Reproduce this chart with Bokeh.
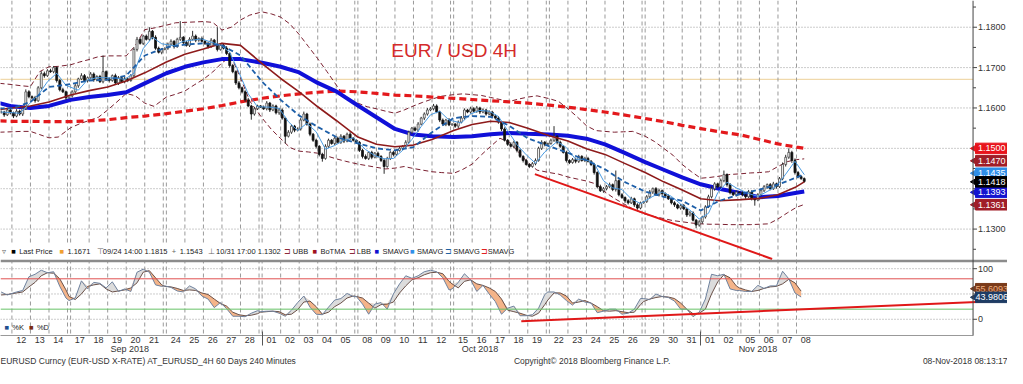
import numpy as np
import pandas as pd
from bokeh.plotting import figure
from bokeh.models import (Range1d, LinearAxis, FixedTicker, Span, Label, BoxAnnotation)
from bokeh.core.properties import value
from bokeh.embed import file_html
from bokeh.resources import INLINE

# ------------------------------------------------------------------ data
TRADING_DAYS = pd.bdate_range("2018-09-12", "2018-11-08")
PRE_BARS = 4          # last bars of Sep 11 at the left edge
LAST_DAY_BARS = 3     # Nov 8 is still in progress
MONTHS = ["Sep 2018", "Oct 2018", "Nov 2018"]
FOOTER = ["EURUSD Curncy (EUR-USD X-RATE) AT_EURUSD_4H 60 Days 240 Minutes",
          "Copyright© 2018 Bloomberg Finance L.P.", "08-Nov-2018 08:13:17"]

# 4H closes (pre, then 6 per weekday, 1 for each Sunday session)
CLOSE = [
    1.1590, 1.1583, 1.1595, 1.1588,
    1.1580, 1.1592, 1.1585, 1.1598, 1.1640, 1.1628,   # 12 Sep
    1.1625, 1.1618, 1.1650, 1.1685, 1.1680, 1.1692,   # 13
    1.1690, 1.1700, 1.1668, 1.1645, 1.1640, 1.1625,   # 14
    1.1630,
    1.1640, 1.1655, 1.1672, 1.1680, 1.1668, 1.1675,   # 17
    1.1684, 1.1670, 1.1678, 1.1665, 1.1690, 1.1672,   # 18
    1.1668, 1.1680, 1.1662, 1.1675, 1.1665, 1.1672,   # 19
    1.1668, 1.1680, 1.1745, 1.1770, 1.1760, 1.1778,   # 20
    1.1770, 1.1790, 1.1775, 1.1748, 1.1738, 1.1745,   # 21
    1.1748,
    1.1758, 1.1765, 1.1752, 1.1770, 1.1775, 1.1762,   # 24
    1.1755, 1.1770, 1.1778, 1.1768, 1.1772, 1.1765,   # 25
    1.1760, 1.1752, 1.1768, 1.1758, 1.1745, 1.1755,   # 26
    1.1748, 1.1735, 1.1705, 1.1690, 1.1662, 1.1650,   # 27
    1.1640, 1.1620, 1.1605, 1.1585, 1.1598, 1.1605,   # 28
    1.1602,
    1.1598, 1.1612, 1.1595, 1.1605, 1.1588, 1.1595,   # 01 Oct
    1.1575, 1.1530, 1.1540, 1.1555, 1.1545, 1.1548,   # 02
    1.1570, 1.1585, 1.1560, 1.1535, 1.1520, 1.1505,   # 03
    1.1485, 1.1475, 1.1505, 1.1520, 1.1512, 1.1525,   # 04
    1.1515, 1.1530, 1.1518, 1.1535, 1.1525, 1.1520,   # 05
    1.1515,
    1.1495, 1.1480, 1.1475, 1.1490, 1.1478, 1.1488,   # 08
    1.1480, 1.1470, 1.1455, 1.1475, 1.1490, 1.1485,   # 09
    1.1495, 1.1500, 1.1505, 1.1515, 1.1540, 1.1550,   # 10
    1.1545, 1.1560, 1.1575, 1.1585, 1.1595, 1.1598,   # 11
    1.1605, 1.1590, 1.1570, 1.1560, 1.1570, 1.1558,   # 12
    1.1560,
    1.1555, 1.1565, 1.1575, 1.1595, 1.1590, 1.1598,   # 15
    1.1592, 1.1600, 1.1590, 1.1595, 1.1585, 1.1590,   # 16
    1.1580, 1.1575, 1.1565, 1.1548, 1.1520, 1.1510,   # 17
    1.1505, 1.1515, 1.1495, 1.1480, 1.1470, 1.1460,   # 18
    1.1455, 1.1462, 1.1470, 1.1500, 1.1515, 1.1510,   # 19
    1.1512,
    1.1520, 1.1530, 1.1515, 1.1505, 1.1490, 1.1470,   # 22
    1.1465, 1.1472, 1.1468, 1.1480, 1.1470, 1.1475,   # 23
    1.1468, 1.1460, 1.1440, 1.1405, 1.1395, 1.1400,   # 24
    1.1405, 1.1410, 1.1398, 1.1420, 1.1385, 1.1378,   # 25
    1.1370, 1.1365, 1.1375, 1.1360, 1.1352, 1.1365,   # 26
    1.1368,
    1.1380, 1.1392, 1.1400, 1.1385, 1.1395, 1.1388,   # 29
    1.1382, 1.1375, 1.1365, 1.1360, 1.1352, 1.1358,   # 30
    1.1350, 1.1335, 1.1340, 1.1322, 1.1310, 1.1318,   # 31
    1.1330, 1.1355, 1.1380, 1.1400, 1.1412, 1.1405,   # 01 Nov
    1.1420, 1.1435, 1.1410, 1.1390, 1.1385, 1.1392,   # 02
    1.1390,
    1.1385, 1.1380, 1.1392, 1.1375, 1.1372, 1.1385,   # 05
    1.1395, 1.1405, 1.1410, 1.1400, 1.1412, 1.1405,   # 06
    1.1425, 1.1460, 1.1478, 1.1490, 1.1470, 1.1440,   # 07
    1.1430, 1.1425, 1.1418,                           # 08
]
# wick extension above / below the candle body, in pips
WICK_HI = [
    4, 3, 5, 3,
    3, 5, 4, 3, 6, 4,  3, 5, 4, 6, 5, 4,  5, 4, 3, 4, 5, 3,  2,
    4, 5, 3, 6, 4, 3,  5, 4, 3, 4, 40, 3,  4, 3, 5, 4, 3, 5,  3, 4, 5, 6, 4, 3,  4, 10, 3, 5, 4, 3,  2,
    4, 5, 3, 4, 40, 3,  4, 5, 13, 4, 3, 5,  3, 4, 5, 3, 42, 4,  4, 5, 3, 4, 3, 5,  3, 4, 5, 3, 4, 3,  2,
    4, 5, 3, 4, 3, 5,  4, 3, 5, 4, 3, 4,  5, 6, 3, 4, 3, 4,  3, 4, 5, 4, 3, 5,  4, 5, 3, 4, 5, 3,  2,
    3, 4, 5, 3, 4, 3,  4, 3, 5, 4, 3, 4,  3, 4, 3, 5, 4, 3,  4, 5, 3, 4, 5, 4,  5, 4, 3, 4, 3, 5,  2,
    3, 4, 5, 4, 3, 5,  4, 5, 3, 4, 3, 4,  3, 4, 5, 3, 4, 3,  5, 4, 3, 4, 3, 4,  3, 4, 5, 4, 5, 3,  2,
    4, 25, 3, 4, 3, 4,  3, 4, 5, 4, 3, 4,  4, 3, 4, 3, 5, 4,  4, 5, 3, 25, 3, 4,  3, 4, 5, 3, 4, 3,  2,
    4, 5, 3, 4, 5, 3,  3, 4, 3, 4, 3, 4,  4, 3, 5, 4, 3, 4,  3, 4, 5, 6, 4, 3,  5, 10, 3, 4, 3, 4,  2,
    4, 3, 5, 4, 3, 4,  5, 4, 3, 4, 5, 3,  4, 5, 6, 10, 4, 5,  4, 3, 3,
]
WICK_LO = [
    4, 5, 3, 4,
    5, 3, 4, 5, 3, 4,  4, 5, 3, 4, 5, 3,  3, 4, 5, 4, 3, 5,  2,
    4, 3, 5, 3, 4, 5,  3, 5, 4, 3, 4, 5,  5, 3, 4, 5, 3, 4,  4, 3, 4, 5, 3, 4,  3, 4, 5, 4, 3, 5,  2,
    4, 3, 5, 3, 4, 5,  3, 4, 3, 5, 4, 3,  4, 5, 3, 4, 5, 3,  3, 4, 5, 4, 5, 4,  4, 5, 3, 14, 4, 3,  2,
    3, 4, 5, 3, 4, 5,  4, 18, 3, 4, 5, 3,  4, 3, 4, 5, 4, 5,  5, 8, 3, 4, 3, 4,  3, 4, 5, 3, 4, 3,  2,
    4, 5, 3, 4, 5, 3,  3, 4, 18, 3, 4, 5,  4, 3, 5, 4, 3, 4,  3, 4, 3, 5, 4, 3,  4, 3, 5, 4, 5, 3,  2,
    4, 5, 3, 4, 3, 4,  3, 4, 5, 3, 4, 3,  4, 3, 4, 5, 3, 4,  3, 4, 5, 4, 5, 3,  4, 3, 4, 3, 4, 5,  2,
    3, 4, 5, 4, 3, 5,  4, 3, 5, 4, 3, 4,  3, 4, 5, 4, 3, 5,  4, 3, 4, 5, 4, 3,  5, 4, 3, 5, 4, 3,  2,
    3, 4, 5, 3, 4, 5,  4, 3, 4, 5, 3, 4,  3, 5, 4, 3, 8, 4,  5, 4, 3, 4, 5, 4,  3, 4, 5, 4, 3, 4,  2,
    4, 5, 3, 4, 14, 3,  4, 3, 5, 4, 3, 5,  3, 4, 5, 4, 6, 5,  4, 3, 3,
]

# one value at each day start (first = left edge, last = latest bar)
SMA_BLUE = [1.1612,
    1.1604, 1.1600, 1.1605, 1.1620, 1.1627, 1.1632, 1.1639, 1.1661, 1.1686, 1.1702,
    1.1713, 1.1721, 1.1721, 1.1712, 1.1702, 1.1688, 1.1662, 1.1641, 1.1606, 1.1577,
    1.1548, 1.1534, 1.1530, 1.1528, 1.1530, 1.1535, 1.1538, 1.1536, 1.1534, 1.1531,
    1.1524, 1.1510, 1.1490, 1.1466, 1.1447, 1.1428, 1.1411, 1.1400, 1.1389, 1.1379,
    1.1382, 1.1390, 1.1393]
SMA_RED = [1.1568,
    1.1567, 1.1567, 1.1566, 1.1566, 1.1568, 1.1571, 1.1576, 1.1580, 1.1586, 1.1592,
    1.1598, 1.1606, 1.1615, 1.1624, 1.1630, 1.1635, 1.1639, 1.1642, 1.1640, 1.1636,
    1.1632, 1.1630, 1.1627, 1.1624, 1.1621, 1.1618, 1.1615, 1.1612, 1.1607, 1.1602,
    1.1596, 1.1590, 1.1583, 1.1574, 1.1566, 1.1557, 1.1549, 1.1541, 1.1533, 1.1522,
    1.1511, 1.1503, 1.1500]
BOTMA = [1.1596,
    1.1600, 1.1605, 1.1615, 1.1632, 1.1643, 1.1652, 1.1667, 1.1687, 1.1714, 1.1733,
    1.1746, 1.1760, 1.1755, 1.1710, 1.1673, 1.1640, 1.1603, 1.1569, 1.1528, 1.1510,
    1.1504, 1.1508, 1.1522, 1.1544, 1.1559, 1.1567, 1.1564, 1.1550, 1.1531, 1.1518,
    1.1499, 1.1485, 1.1464, 1.1440, 1.1417, 1.1397, 1.1375, 1.1370, 1.1373, 1.1376,
    1.1385, 1.1405, 1.1417]
SMA_DASH = [1.1599,
    1.1599, 1.1615, 1.1652, 1.1659, 1.1668, 1.1670, 1.1680, 1.1730, 1.1750, 1.1757,
    1.1760, 1.1755, 1.1730, 1.1665, 1.1620, 1.1581, 1.1553, 1.1528, 1.1512, 1.1500,
    1.1495, 1.1503, 1.1540, 1.1575, 1.1580, 1.1578, 1.1556, 1.1525, 1.1505, 1.1489,
    1.1470, 1.1448, 1.1418, 1.1393, 1.1380, 1.1370, 1.1346, 1.1370, 1.1387, 1.1398,
    1.1410, 1.1428, 1.1436]
# two values per day (session start and mid-session)
UBB = [1.1661,
    1.1658, 1.1655, 1.1653, 1.1690, 1.1702, 1.1703, 1.1707, 1.1714, 1.1720, 1.1727,
    1.1729, 1.1729, 1.1729, 1.1755, 1.1794, 1.1798, 1.1805, 1.1811, 1.1812, 1.1813,
    1.1814, 1.1812, 1.1793, 1.1800, 1.1818, 1.1830, 1.1838, 1.1833, 1.1825, 1.1808,
    1.1782, 1.1752, 1.1722, 1.1690, 1.1657, 1.1625, 1.1612, 1.1603, 1.1598, 1.1592,
    1.1587, 1.1595, 1.1605, 1.1614, 1.1622, 1.1629, 1.1633, 1.1635, 1.1633, 1.1631,
    1.1626, 1.1621, 1.1616, 1.1622, 1.1627, 1.1630, 1.1623, 1.1616, 1.1598, 1.1578,
    1.1556, 1.1544, 1.1542, 1.1540, 1.1541, 1.1542, 1.1530, 1.1517, 1.1500, 1.1483,
    1.1460, 1.1442, 1.1426, 1.1428, 1.1431, 1.1435, 1.1437, 1.1439, 1.1440, 1.1442,
    1.1455, 1.1467, 1.1472, 1.1474]
LBB = [1.1540,
    1.1541, 1.1542, 1.1542, 1.1534, 1.1526, 1.1528, 1.1551, 1.1561, 1.1569, 1.1577,
    1.1595, 1.1615, 1.1636, 1.1630, 1.1612, 1.1604, 1.1627, 1.1634, 1.1642, 1.1657,
    1.1671, 1.1689, 1.1712, 1.1727, 1.1675, 1.1617, 1.1575, 1.1547, 1.1524, 1.1502,
    1.1493, 1.1491, 1.1488, 1.1481, 1.1474, 1.1468, 1.1461, 1.1457, 1.1453, 1.1449,
    1.1451, 1.1455, 1.1450, 1.1446, 1.1442, 1.1440, 1.1438, 1.1448, 1.1461, 1.1484,
    1.1505, 1.1525, 1.1515, 1.1491, 1.1465, 1.1446, 1.1440, 1.1436, 1.1429, 1.1424,
    1.1419, 1.1412, 1.1392, 1.1376, 1.1363, 1.1350, 1.1337, 1.1331, 1.1326, 1.1321,
    1.1318, 1.1315, 1.1313, 1.1312, 1.1312, 1.1311, 1.1311, 1.1311, 1.1312, 1.1313,
    1.1325, 1.1340, 1.1354, 1.1361]
# fast average, two values per day
SMA_LIGHT = [1.1590,
    1.1587, 1.1609, 1.1632, 1.1665, 1.1686, 1.1656, 1.1644, 1.1670, 1.1675, 1.1675,
    1.1674, 1.1671, 1.1686, 1.1747, 1.1775, 1.1759, 1.1754, 1.1765, 1.1768, 1.1771,
    1.1763, 1.1756, 1.1738, 1.1688, 1.1635, 1.1603, 1.1602, 1.1599, 1.1566, 1.1544,
    1.1562, 1.1541, 1.1498, 1.1507, 1.1520, 1.1526, 1.1497, 1.1482, 1.1474, 1.1475,
    1.1495, 1.1522, 1.1554, 1.1583, 1.1592, 1.1570, 1.1563, 1.1585, 1.1594, 1.1592,
    1.1579, 1.1544, 1.1509, 1.1484, 1.1463, 1.1491, 1.1517, 1.1502, 1.1473, 1.1473,
    1.1463, 1.1420, 1.1402, 1.1398, 1.1375, 1.1363, 1.1381, 1.1392, 1.1381, 1.1362,
    1.1347, 1.1325, 1.1339, 1.1390, 1.1416, 1.1402, 1.1388, 1.1381, 1.1393, 1.1406,
    1.1436, 1.1468, 1.1435]
# stochastics: 2 at left edge, 3 per weekday, 1 per Sunday, 1 for Nov 8
STOCH_K = [54, 48,
    54, 57, 84,  89, 97, 92,  94, 65, 42,  37,
    42, 76, 60,  73, 71, 62,  74, 55, 60,  55, 93, 99,  93, 68, 65,  66,
    63, 56, 54,  66, 60, 46,  40, 23, 33,  21, 6, 6,  5, 12, 17,  15,
    16, 16, 12,  6, 18, 33,  46, 24, 10,  9, 24, 38,  41, 51, 45,  45,
    30, 10, 30,  33, 20, 50,  70, 86, 81,  86, 94, 97,  94, 82, 58,  60,
    73, 90, 78,  55, 67, 50,  35, 10, 22,  26, 7, 7,  9, 22, 49,  54,
    54, 48, 37,  28, 40, 34,  32, 13, 16,  20, 20, 10,  12, 20, 41,  41,
    39, 50, 45,  43, 36, 20,  20, 5, 14,  40, 89, 86,  89, 60, 57,  57,
    55, 55, 67,  61, 66, 66,  95, 80, 52,  43.98]
STOCH_D = [48, 49,
    52, 54, 64,  73, 86, 92,  91, 80, 58,  45,
    39, 50, 65,  68, 70, 60,  54, 56, 58,  62, 72, 93,  96, 82, 68,  65,
    64, 61, 57,  58, 57, 52,  49, 40, 31,  26, 14, 9,  7, 8, 11,  14,
    15, 16, 15,  9, 10, 19,  34, 36, 25,  10, 14, 25,  32, 42, 46,  45,
    42, 32, 22,  29, 30, 34,  52, 66, 78,  82, 88, 92,  93, 90, 75,  70,
    62, 75, 78,  70, 67, 62,  55, 40, 18,  15, 12, 8,  6, 12, 29,  38,
    52, 52, 46,  32, 34, 37,  32, 25, 17,  16, 17, 15,  13, 14, 29,  35,
    40, 43, 45,  44, 41, 32,  20, 11, 12,  20, 50, 74,  88, 82, 66,  62,
    58, 55, 57,  61, 64, 65,  70, 79, 72,  55.61]
# hand-drawn trend lines (bar position, value)
TREND_PRICE_BAR = [169.3, 246.1]
TREND_PRICE_VAL = [1.1436, 1.1226]
TREND_STOCH_BAR = [164.9, 322.0]
TREND_STOCH_VAL = [-4.0, 36.8]
AVG_PRICE = 1.1671
PRICE_TICKS = [1.13, 1.14, 1.15, 1.16, 1.17, 1.18]
PRICE_MINOR = [1.125, 1.135, 1.145, 1.155, 1.165, 1.175, 1.185]
STOCH_TICKS = [0, 100]
# value tags at the right edge: text, tag colour, text colour
TAGS_PRICE = [("1.1500", "#e8141c", "white"), ("1.1470", "#a01e28", "white"),
              ("1.1435", "#2f8fe8", "white"), ("1.1418", "#000000", "white"),
              ("1.1393", "#1414d0", "white"), ("1.1361", "#a01e28", "white")]
TAGS_STOCH = [("55.6093", "#7a3a1a", "#f0b080"), ("43.9806", "#1e3c64", "white")]

# ------------------------------------------------------------------ calendar -> bar index
bars_left = list(range(-PRE_BARS, 0))
day_start, sun_start, monday = [], [], []
b = 0
for i, d in enumerate(TRADING_DAYS):
    if d.weekday() == 0:
        sun_start.append(b); bars_left.append(b); b += 1
    monday.append(d.weekday() == 0)
    day_start.append(b)
    n = LAST_DAY_BARS if i == len(TRADING_DAYS) - 1 else 6
    bars_left.extend(range(b, b + n)); b += n
xb = np.array(bars_left) + 0.5
assert len(xb) == len(CLOSE) == len(WICK_HI) == len(WICK_LO)
last_x = xb[-1]
x_daily = [-PRE_BARS] + day_start + [last_x]
x_two = [-PRE_BARS]
for s in day_start[:-1]:
    x_two += [s, s + 3]
x_two += [day_start[-1], last_x]
x_light = [-3.5]
for s in day_start[:-1]:
    x_light += [s + 2.5, s + 5.5]
x_light += [day_start[-1] + 2.5]
x_st = [-3.5, -1.5]
for i, s in enumerate(day_start):
    if monday[i]:
        x_st.append(s - 0.5)
    x_st += [s + 1.5] if i == len(day_start) - 1 else [s + 1.5, s + 3.5, s + 5.5]

close = np.array(CLOSE)
openp = np.concatenate([[close[0]], close[:-1]])
high = np.maximum(openp, close) + np.array(WICK_HI) * 1e-4
low = np.minimum(openp, close) - np.array(WICK_LO) * 1e-4
up = close >= openp

# ------------------------------------------------------------------ layout helpers (reference pixels)
def X(px): return (px - 11.6) / 3.138
def P(py): return 1.18 - (py - 28) / 4230.0
def V(py): return (334 - py) / 0.53

W, H = 1007, 368
SX, SY = W / 1023, H / 384
FRAME_H = round(351 * SY)          # 336
FONT = "Liberation Sans"
AX = X(988)                         # price-axis position

p = figure(width=W, height=H, output_backend="svg", toolbar_location=None,
           x_range=Range1d(X(0), X(1023)), y_range=Range1d(P(351), P(0)),
           x_axis_type=None, y_axis_type=None,
           min_border_left=0, min_border_top=0, min_border_right=0, min_border_bottom=H - FRAME_H)
p.extra_y_ranges = {"stoch": Range1d(V(351), V(0))}
p.outline_line_color = None
p.background_fill_color = "white"
p.border_fill_color = "white"

# grid
for s in day_start + sun_start:
    p.add_layout(Span(location=s, dimension="height", line_color="#9a9a9a",
                      line_dash="4 3", line_width=1, level="underlay"))
p.segment(X(0), PRICE_TICKS, AX, PRICE_TICKS, line_color="#999999", line_dash="1 2", line_width=1,
          level="underlay")
p.segment(X(0), [0, 50, 100], AX, [0, 50, 100], line_color="#999999", line_dash="1 2", line_width=1,
          level="underlay", y_range_name="stoch")
p.segment(X(0), AVG_PRICE, AX, AVG_PRICE, line_color="#d9a030", line_dash="1 1", line_width=1,
          level="underlay")
p.add_layout(BoxAnnotation(left=X(0), right=X(512), bottom=P(272), top=P(255),
                           fill_color="white", fill_alpha=1, line_color=None, level="underlay"))

# bands / averages
p.line(x_two, UBB, line_color="#7a2030", line_width=1, line_dash="5 3")
p.line(x_two, LBB, line_color="#7a2030", line_width=1, line_dash="5 3")
p.line(x_daily, SMA_RED, line_color="#e3191c", line_width=3.2, line_dash="7 4")
p.line(x_daily, SMA_BLUE, line_color="#1010d8", line_width=4)

# candles
p.segment(xb, high, xb, low, line_color="#2a2a2a", line_width=1)
p.vbar(xb[up], 0.62, close[up], openp[up], fill_color="white", line_color="#444444", line_width=0.8)
p.vbar(xb[~up], 0.62, openp[~up], close[~up], fill_color="#111111", line_color="#111111", line_width=0.8)

p.line(x_daily, BOTMA, line_color="#8e1b1b", line_width=1.6)
p.line(x_light, SMA_LIGHT, line_color="#4b9be0", line_width=1)
p.line(x_daily, SMA_DASH, line_color="#1e5fa8", line_width=1.8, line_dash="5 3")
p.line(TREND_PRICE_BAR, TREND_PRICE_VAL, line_color="#e01818", line_width=2)

# stochastics
K = np.array(STOCH_K, float); D = np.array(STOCH_D, float)
top = np.maximum(K, D)
p.varea(x_st, K, top, fill_color="#f4b489", y_range_name="stoch")
p.varea(x_st, D, top, fill_color="#dcdcdc", y_range_name="stoch")
p.line(x_st, D, line_color="#6a5048", line_width=1, y_range_name="stoch")
p.line(x_st, K, line_color="#6f829e", line_width=1, y_range_name="stoch")
p.segment(X(0), [80, 20], AX, [80, 20], line_color=["#e05050", "#66c266"], line_width=1,
          y_range_name="stoch")
p.add_layout(Span(location=P(273), dimension="width", line_color="#8c8c8c", line_width=2.5))
p.line(TREND_STOCH_BAR, TREND_STOCH_VAL, line_color="#e01818", line_width=2, y_range_name="stoch")

# price / stochastic scale at the right edge
tick = 4 / 3.138
p.add_layout(Span(location=AX, dimension="height", line_color="#444444", line_width=1))
p.segment(AX, PRICE_TICKS, AX + tick, PRICE_TICKS, line_color="#444444", line_width=1)
p.segment(AX, PRICE_MINOR, AX + 0.75 * tick, PRICE_MINOR, line_color="#444444", line_width=1)
p.segment(AX, STOCH_TICKS + [50], AX + tick, STOCH_TICKS + [50], line_color="#444444", line_width=1,
          y_range_name="stoch")
p.text(X(993), PRICE_TICKS, text=[f"{t:.4f}" for t in PRICE_TICKS], text_font=value(FONT),
       text_font_size="9px", text_color="#333333", text_baseline="middle")
p.text(X(993), STOCH_TICKS, text=[str(t) for t in STOCH_TICKS], text_font=value(FONT),
       text_font_size="9px", text_color="#333333", text_baseline="middle", y_range_name="stoch")

# value tags (stacked where they would overlap)
tag_y = [P(155), P(168), P(181), P(190), P(201), P(214)]
order = [0, 1, 2, 4, 5, 3]     # black "last price" tag drawn on top
tx = X(1007)
for i in order:
    t, c, tc = TAGS_PRICE[i]
    p.rect(tx, tag_y[i], width=33 * SX, height=11 * SY, width_units="screen", height_units="screen",
           fill_color=c, line_color=c)
    p.scatter(X(990), tag_y[i], marker="triangle", angle=np.pi / 2, size=8, fill_color=c, line_color=c)
    p.text(tx, tag_y[i], text=[t], text_font=value(FONT), text_font_size="9px", text_color=tc,
           text_align="center", text_baseline="middle")
for (t, c, tc), py in zip(TAGS_STOCH, [302, 311]):
    p.rect(tx, V(py), width=33 * SX, height=11 * SY, width_units="screen", height_units="screen",
           fill_color=c, line_color=c, y_range_name="stoch")
    p.scatter(X(990), V(py), marker="triangle", angle=np.pi / 2, size=8, fill_color=c, line_color=c,
              y_range_name="stoch")
    p.text(tx, V(py), text=[t], text_font=value(FONT), text_font_size="9px", text_color=tc,
           text_align="center", text_baseline="middle", y_range_name="stoch")

def text_axis(ticks, labels, standoff, size="9px", minor=None, minor_in=0, line=None, bounds="auto"):
    ax = LinearAxis(ticker=FixedTicker(ticks=ticks, minor_ticks=minor or []),
                    major_label_overrides=dict(zip(ticks, labels)), bounds=bounds)
    ax.axis_line_color = line
    ax.major_tick_line_color = None
    ax.major_tick_out = 0
    ax.minor_tick_out = 0
    ax.minor_tick_in = minor_in
    ax.minor_tick_line_color = "#555555" if minor else None
    ax.major_label_standoff = standoff
    ax.major_label_text_font = FONT
    ax.major_label_text_font_size = size
    ax.major_label_text_color = "#333333"
    return ax

# bottom axes: days, months (month separators as inward minor ticks), footer line
day_ticks = [s + 3 for s in day_start]
p.add_layout(text_axis(day_ticks, [d.strftime("%d") for d in TRADING_DAYS], 1,
                       line="#999999", bounds=(X(0), AX)), "below")
m_ticks = [(X(0) + sun_start[2]) / 2, (sun_start[2] + day_start[36]) / 2,
           (day_start[36] + day_start[-1] + 6) / 2]
p.add_layout(text_axis(m_ticks, MONTHS, -2, minor=[day_start[13], day_start[36]], minor_in=14), "below")
f_ticks = [X(133), X(601), X(980)]
p.add_layout(text_axis(f_ticks, FOOTER, -1, size="8.5px"), "below")

# texts inside the frame
p.add_layout(Label(x=X(397), y=P(52), text="EUR / USD 4H", text_font=FONT, text_font_size="19px",
                   text_color="#d42a2a", text_baseline="alphabetic"))
legend = [(2, "▿", "#666666"), (11, "■", "#000000"), (19, "Last Price", "#222222"),
          (60, "■", "#f0a030"), (68, "1.1671", "#222222"),
          (98, "⊤", "#666666"), (104, "09/24 14:00 1.1815", "#222222"),
          (174, "+", "#666666"), (182, "1.1543", "#222222"),
          (211, "⊥", "#666666"), (219, "10/31 17:00 1.1302", "#222222"),
          (288, "⊐", "#8b2a3a"), (297, "UBB", "#222222"),
          (317, "■", "#a01020"), (325, "BoTMA", "#222222"),
          (354, "⊐", "#8b2a3a"), (362, "LBB", "#222222"),
          (380, "■", "#1010d0"), (388, "SMAVG", "#222222"),
          (416, "■", "#3090e8"), (423, "SMAVG", "#222222"),
          (452, "⊐", "#2060a0"), (460, "SMAVG", "#222222"),
          (488, "⊐", "#e02020"), (495, "SMAVG", "#222222")]
for px, t, c in legend:
    p.add_layout(Label(x=X(px), y=P(263.5), text=t, text_font=FONT, text_font_size="7.5px",
                       text_color=c, text_baseline="middle"))
for px, t, c in [(4, "■", "#1f4f8f"), (12, "%K", "#222222"), (29, "■", "#7a2a10"), (37, "%D", "#222222")]:
    p.add_layout(Label(x=X(px), y=V(343), y_range_name="stoch", text=t, text_font=FONT,
                       text_font_size="7.5px", text_color=c, text_baseline="middle"))

open("out.html", "w").write(file_html(p, INLINE))
